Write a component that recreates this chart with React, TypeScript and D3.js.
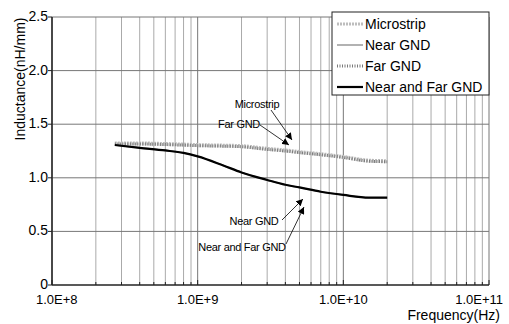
import React, { useRef, useEffect } from 'react';
import * as d3 from 'd3';

const freqs = [2.7e8, 4e8, 6e8, 8e8, 1e9, 1.5e9, 2e9, 3e9, 4e9, 5e9, 7e9, 1e10, 1.5e10, 2e10];
const microstrip = [1.32, 1.32, 1.315, 1.31, 1.305, 1.3, 1.295, 1.27, 1.255, 1.24, 1.22, 1.195, 1.16, 1.155];
const farGnd = [1.315, 1.315, 1.31, 1.305, 1.3, 1.295, 1.29, 1.265, 1.25, 1.235, 1.215, 1.19, 1.155, 1.15];
const nearGnd = [1.306, 1.28, 1.255, 1.232, 1.2, 1.115, 1.05, 0.98, 0.935, 0.91, 0.87, 0.84, 0.815, 0.815];
const nearFarGnd = [1.306, 1.28, 1.255, 1.232, 1.2, 1.115, 1.05, 0.98, 0.935, 0.91, 0.87, 0.84, 0.815, 0.815];

const seriesNames = ['Microstrip', 'Near GND', 'Far GND', 'Near and Far GND'];
const xTicks = [1e8, 1e9, 1e10, 1e11];
const xTickLabels = ['1.0E+8', '1.0E+9', '1.0E+10', '1.0E+11'];
const yTicks = [0, 0.5, 1.0, 1.5, 2.0, 2.5];
const yTickLabels = ['0', '0.5', '1.0', '1.5', '2.0', '2.5'];

const styles = [
  { stroke: '#bdbdbd', width: 4, dash: '2,1' },
  { stroke: '#999999', width: 1.5, dash: null },
  { stroke: '#7a7a7a', width: 3, dash: '1,1.5' },
  { stroke: '#000000', width: 2.2, dash: null },
];

const App = () => {
  const ref = useRef<SVGSVGElement>(null);

  useEffect(() => {
    const width = 509, height = 324;
    const left = 52, right = 489, top = 17, bottom = 285;
    const font = 'Liberation Sans, Arial, sans-serif';

    const x = d3.scaleLog().domain([1e8, 1e11]).range([left, right]);
    const y = d3.scaleLinear().domain([0, 2.5]).range([bottom, top]);

    const svg = d3.select(ref.current);
    svg.selectAll('*').remove();
    svg.attr('width', width).attr('height', height);

    svg.append('rect').attr('width', width).attr('height', height).attr('fill', '#fff');

    const defs = svg.append('defs');
    defs.append('marker')
      .attr('id', 'arr')
      .attr('viewBox', '0 0 10 10')
      .attr('refX', 10).attr('refY', 5)
      .attr('markerWidth', 7).attr('markerHeight', 7)
      .attr('markerUnits', 'userSpaceOnUse')
      .attr('orient', 'auto')
      .append('path').attr('d', 'M0,0L10,5L0,10z').attr('fill', '#000');

    // grid
    const minor: number[] = [];
    for (let e = 8; e < 11; e++) for (let m = 1; m <= 9; m++) minor.push(m * Math.pow(10, e));
    minor.push(1e11);
    svg.append('g').selectAll('line').data(minor).join('line')
      .attr('x1', d => x(d)).attr('x2', d => x(d))
      .attr('y1', top).attr('y2', bottom)
      .attr('stroke', d => (xTicks.includes(d) ? '#777' : '#aaa'))
      .attr('stroke-width', 1);
    svg.append('g').selectAll('line').data(yTicks.slice(1)).join('line')
      .attr('x1', left).attr('x2', right)
      .attr('y1', d => y(d)).attr('y2', d => y(d))
      .attr('stroke', '#777').attr('stroke-width', 1);

    // axes
    svg.append('line').attr('x1', left).attr('x2', left).attr('y1', top).attr('y2', bottom)
      .attr('stroke', '#222').attr('stroke-width', 1.5);
    svg.append('line').attr('x1', left).attr('x2', right).attr('y1', bottom).attr('y2', bottom)
      .attr('stroke', '#222').attr('stroke-width', 1.5);
    svg.append('g').selectAll('line').data(yTicks).join('line')
      .attr('x1', left - 4).attr('x2', left)
      .attr('y1', d => y(d)).attr('y2', d => y(d))
      .attr('stroke', '#222');
    svg.append('g').selectAll('line').data(minor).join('line')
      .attr('x1', d => x(d)).attr('x2', d => x(d))
      .attr('y1', bottom).attr('y2', d => (xTicks.includes(d) ? bottom - 5 : bottom - 3))
      .attr('stroke', '#222');

    svg.append('g').selectAll('text').data(yTicks).join('text')
      .attr('x', left - 4).attr('y', d => y(d) + 4)
      .attr('text-anchor', 'end')
      .attr('font-family', font).attr('font-size', 14)
      .text((d, i) => yTickLabels[i]);
    // first/last labels kept inside the frame, as the original does
    const last = xTicks.length - 1;
    svg.append('g').selectAll('text').data(xTicks).join('text')
      .attr('x', (d, i) => (i === 0 ? 36 : i === last ? 503 : x(d)))
      .attr('y', 304)
      .attr('text-anchor', (d, i) => (i === 0 ? 'start' : i === last ? 'end' : 'middle'))
      .attr('font-family', font).attr('font-size', 13)
      .text((d, i) => xTickLabels[i]);

    svg.append('text')
      .attr('transform', `translate(25,79) rotate(-90)`)
      .attr('text-anchor', 'middle')
      .attr('font-family', font).attr('font-size', 14)
      .text('Inductance(nH/mm)');
    svg.append('text')
      .attr('x', 500).attr('y', 320)
      .attr('text-anchor', 'end')
      .attr('font-family', font).attr('font-size', 14)
      .text('Frequency(Hz)');

    // series
    const data = [microstrip, nearGnd, farGnd, nearFarGnd];
    const lineGen = d3.line<number>()
      .x((d, i) => x(freqs[i]))
      .y(d => y(d))
      .curve(d3.curveMonotoneX);
    data.forEach((vals, k) => {
      const p = svg.append('path')
        .attr('d', lineGen(vals))
        .attr('fill', 'none')
        .attr('stroke', styles[k].stroke)
        .attr('stroke-width', styles[k].width);
      if (styles[k].dash) p.attr('stroke-dasharray', styles[k].dash);
    });

    // annotations
    const notes = [
      { label: 'Microstrip', tx: 257, ty: 108, x1: 271, y1: 110, x2: 292, y2: 140 },
      { label: 'Far GND', tx: 239, ty: 128, x1: 260, y1: 125, x2: 289, y2: 145 },
      { label: 'Near GND', tx: 254, ty: 225, x1: 282, y1: 220, x2: 303, y2: 199 },
      { label: 'Near and Far GND', tx: 242, ty: 251, x1: 286, y1: 244, x2: 304, y2: 207 },
    ];
    const ng = svg.append('g');
    notes.forEach(n => {
      ng.append('line')
        .attr('x1', n.x1).attr('y1', n.y1).attr('x2', n.x2).attr('y2', n.y2)
        .attr('stroke', '#000').attr('stroke-width', 0.8)
        .attr('marker-end', 'url(#arr)');
      ng.append('text')
        .attr('x', n.tx).attr('y', n.ty)
        .attr('text-anchor', 'middle')
        .attr('font-family', font).attr('font-size', 11)
        .attr('letter-spacing', -0.3)
        .text(n.label);
    });

    // legend
    const lg = svg.append('g');
    lg.append('rect')
      .attr('x', 332).attr('y', 12).attr('width', 157).attr('height', 83)
      .attr('fill', '#fff').attr('stroke', '#222').attr('stroke-width', 1);
    const rows = lg.selectAll('g').data(seriesNames).join('g')
      .attr('transform', (d, i) => `translate(0,${24 + i * 21})`);
    rows.append('line')
      .attr('x1', 337).attr('x2', 363).attr('y1', 0).attr('y2', 0)
      .attr('stroke', (d, i) => styles[i].stroke)
      .attr('stroke-width', (d, i) => Math.min(styles[i].width, 3))
      .attr('stroke-dasharray', (d, i) => styles[i].dash || null);
    rows.append('text')
      .attr('x', 365).attr('y', 5)
      .attr('font-family', font).attr('font-size', 14)
      .text(d => d);
  }, []);

  return <svg ref={ref} style={{ position: 'absolute', left: 0, top: 0 }} />;
};

export default App;
